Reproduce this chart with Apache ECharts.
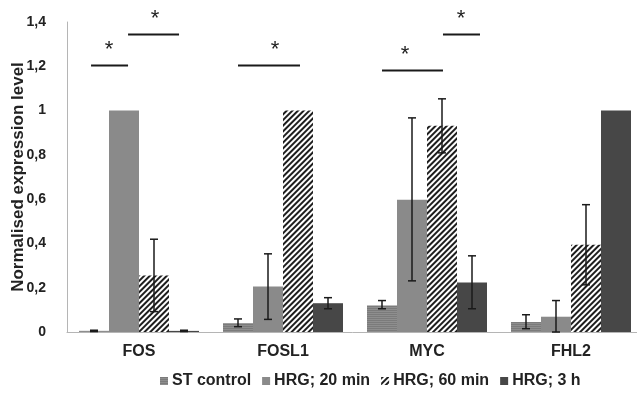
<!DOCTYPE html>
<html><head><meta charset="utf-8">
<script src="https://cdn.jsdelivr.net/npm/echarts@6/dist/echarts.min.js"></script>
<style>html,body{margin:0;padding:0;background:#fff}#c{width:637px;height:396px}</style>
</head><body><div id="c"></div>
<script>
var categories = ['FOS', 'FOSL1', 'MYC', 'FHL2'];
var seriesNames = ['ST control', 'HRG; 20 min', 'HRG; 60 min', 'HRG; 3 h'];
var stControl = [0.005, 0.04, 0.12, 0.045];
var hrg20 = [1.0, 0.205, 0.597, 0.069];
var hrg60 = [0.255, 1.0, 0.932, 0.394];
var hrg3h = [0.005, 0.13, 0.223, 1.0];
// error bar [low, high]
var errST = [[0.002, 0.008], [0.024, 0.059], [0.105, 0.142], [0.015, 0.078]];
var err20 = [null, [0.057, 0.353], [0.231, 0.967], [0.0, 0.142]];
var err60 = [[0.092, 0.419], null, [0.809, 1.053], [0.213, 0.575]];
var err3h = [[0.002, 0.008], [0.105, 0.155], [0.105, 0.344], null];
var yTicks = [0, 0.2, 0.4, 0.6, 0.8, 1, 1.2, 1.4];
// significance brackets [x1, x2, y] in category units (0..4)
var sigLines = [[0.167, 0.424, 1.204], [0.424, 0.778, 1.344], [1.1875, 1.618, 1.204], [2.1875, 2.611, 1.181], [2.611, 2.868, 1.344]];
var sigStars = [[0.292, 1.29], [0.611, 1.432], [1.444, 1.29], [2.347, 1.268], [2.736, 1.432]];

var values = [stControl, hrg20, hrg60, hrg3h];
var errs = [errST, err20, err60, err3h];
var colors = ['#8e8e8e', '#8a8a8a', '#ffffff', '#474747'];
var decals = [
  {symbol: 'rect', symbolSize: 1, dashArrayX: [[1, 0]], dashArrayY: [1, 1], color: 'rgba(110,110,110,0.6)'},
  null,
  {symbol: 'rect', symbolSize: 1, dashArrayX: [[1, 0]], dashArrayY: [1.4, 1.4], rotation: -Math.PI / 4, color: '#1e1e1e'},
  null
];
var FONT = 'Liberation Sans, Arial';
var chart = echarts.init(document.getElementById('c'));
var series = [];
for (var i = 0; i < 4; i++) {
  var st = {color: colors[i]};
  if (decals[i]) st.decal = decals[i];
  series.push({
    name: seriesNames[i], type: 'bar', data: values[i], barGap: '0%', barCategoryGap: '16.67%',
    itemStyle: st, emphasis: {disabled: true}
  });
}
var errData = [];
for (var s = 0; s < 4; s++) for (var c = 0; c < 4; c++) if (errs[s][c]) errData.push([c, errs[s][c][0], errs[s][c][1], s]);
series.push({
  type: 'custom', data: errData, silent: true, z: 10,
  renderItem: function (params, api) {
    var c = api.value(0), lo = api.value(1), hi = api.value(2), s = api.value(3);
    var catW = api.size([1, 0])[0];
    var bw = catW * (1 - 1 / 6) / 4;
    var base = api.coord([c, 0]);
    var x = base[0] + (s - 1.5) * bw;
    var yl = api.coord([c, lo])[1], yh = api.coord([c, hi])[1];
    var st = {stroke: '#1a1a1a', lineWidth: 1.5};
    return {type: 'group', children: [
      {type: 'line', shape: {x1: x, y1: yl, x2: x, y2: yh}, style: st},
      {type: 'line', shape: {x1: x - 4, y1: yl, x2: x + 4, y2: yl}, style: st},
      {type: 'line', shape: {x1: x - 4, y1: yh, x2: x + 4, y2: yh}, style: st}
    ]};
  }
});
series.push({
  type: 'custom', xAxisIndex: 1, data: sigLines, silent: true, clip: false,
  renderItem: function (params, api) {
    var p1 = api.coord([api.value(0), api.value(2)]);
    var p2 = api.coord([api.value(1), api.value(2)]);
    return {type: 'line', shape: {x1: p1[0], y1: p1[1], x2: p2[0], y2: p2[1]}, style: {stroke: '#1a1a1a', lineWidth: 2}};
  }
});
series.push({
  type: 'custom', xAxisIndex: 1, data: sigStars, silent: true, clip: false,
  renderItem: function (params, api) {
    var p = api.coord([api.value(0), api.value(1)]);
    return {type: 'text', x: p[0], y: p[1] + 4, style: {text: '*', fontSize: 22, fontFamily: FONT, fill: '#222', align: 'center', verticalAlign: 'middle'}};
  }
});

chart.setOption({
  animation: false,
  grid: {left: 67, right: -6, top: 22, bottom: 64, containLabel: false, outerBoundsMode: 'none'},
  legend: {
    data: seriesNames, bottom: 2, left: 155, itemWidth: 8, itemHeight: 8, itemGap: 11,
    icon: 'rect',
    textStyle: {fontFamily: FONT, fontWeight: 'bold', fontSize: 16, color: '#222', padding: [0, 0, 0, -1]}
  },
  xAxis: [{
    type: 'category', data: categories,
    axisLine: {lineStyle: {color: '#b5b5b5', width: 1}},
    axisTick: {show: false},
    axisLabel: {fontFamily: FONT, fontWeight: 'bold', fontSize: 16, color: '#222', margin: 12}
  }, {
    type: 'value', min: 0, max: 4, show: false
  }],
  yAxis: {
    type: 'value', min: 0, max: 1.4, interval: 0.2,
    name: 'Normalised expression level', nameLocation: 'middle', nameGap: 40, nameMoveOverlap: false,
    nameTextStyle: {fontFamily: FONT, fontWeight: 'bold', fontSize: 17, color: '#222'},
    axisLine: {show: true, lineStyle: {color: '#b5b5b5', width: 1}},
    axisTick: {show: false},
    splitLine: {show: false},
    axisLabel: {
      fontFamily: FONT, fontWeight: 'bold', fontSize: 14, color: '#222', margin: 21,
      formatter: function (v) {
        var t = yTicks.reduce(function (a, b) { return Math.abs(b - v) < Math.abs(a - v) ? b : a; });
        return String(Math.round(t * 10) / 10).replace('.', ',');
      }
    }
  },
  series: series
});
</script></body></html>
